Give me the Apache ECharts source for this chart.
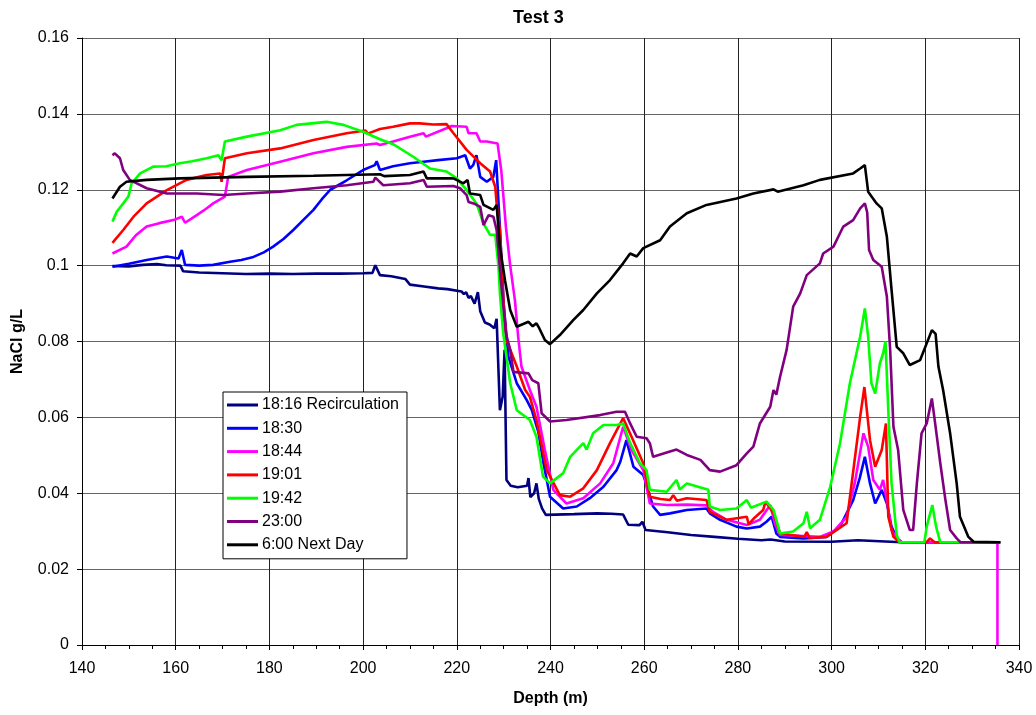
<!DOCTYPE html>
<html>
<head>
<meta charset="utf-8">
<title>Test 3</title>
<script src="https://cdn.jsdelivr.net/npm/echarts@6/dist/echarts.min.js"></script>
<style>
  html, body { margin: 0; padding: 0; background: #fff; }
  #chart { width: 1036px; height: 715px; }
</style>
</head>
<body>
<div id="chart"></div>
<script>
// Salinity profiles along the hole: [depth (m), NaCl (g/L)]
const seriesNames = ['18:16 Recirculation', '18:30', '18:44', '19:01', '19:42', '23:00', '6:00 Next Day'];
const seriesColors = ['#000080', '#0000FF', '#FF00FF', '#FF0000', '#00FF00', '#800080', '#000000'];

const xTicks = { min: 140, max: 340, step: 20 };
const yTicks = { min: 0, max: 0.16, step: 0.02 };

const recirc1816 = [
  [146.5,0.0999],[150,0.0998],[153,0.1002],[156,0.1004],[158,0.1001],[161,0.1000],[161.6,0.0985],[165,0.0982],
  [170,0.0980],[175,0.0978],[180,0.0979],[185,0.0978],[190,0.0979],[195,0.0979],[200,0.0980],[202,0.0981],
  [202.6,0.1001],[203.6,0.0975],[206,0.0972],[209,0.0965],[210,0.0950],[213,0.0945],[216,0.0940],[218,0.0938],
  [221,0.0932],[221.5,0.0925],[222,0.0930],[222.5,0.0915],[223,0.0920],[223.8,0.0900],[224.5,0.0930],[225,0.0880],
  [226,0.0850],[227,0.0845],[228,0.0835],[228.5,0.0860],[229.2,0.0619],[229.8,0.0655],[230.2,0.0778],[230.6,0.0435],
  [231.5,0.0420],[233,0.0416],[235,0.0420],[235.3,0.0440],[235.7,0.0390],[236.5,0.0400],[237,0.0426],[237.5,0.0385],
  [238.2,0.0360],[239,0.0343],[245,0.0345],[250,0.0347],[253,0.0346],[255.5,0.0344],[256.6,0.0317],[259,0.0316],
  [259.6,0.0325],[260.3,0.0303],[265,0.0297],[270,0.0290],[275,0.0285],[280,0.0280],[285,0.0276],[287,0.0278],
  [290,0.0273],[300,0.0272],[305.6,0.0276],[306,0.0272],[315,0.0271],[325,0.0271],[336,0.0271]
];

const t1830 = [
  [146.5,0.0997],[150,0.1005],[153.8,0.1015],[158.1,0.1024],[160.6,0.1019],[161.3,0.1041],[162,0.1002],[165,0.1000],
  [168,0.1002],[171.6,0.1010],[174,0.1015],[176.6,0.1023],[178.8,0.1035],[180.8,0.1050],[183,0.1070],[185.1,0.1094],
  [187.2,0.1120],[189.4,0.1147],[191.2,0.1175],[193,0.1200],[196.5,0.1225],[200,0.1252],[202.5,0.1265],[202.9,0.1275],
  [203.6,0.1252],[206.4,0.1262],[210,0.1270],[212.9,0.1274],[216,0.1278],[220,0.1283],[221.8,0.1291],[222.8,0.1256],
  [223.5,0.1265],[224.2,0.1291],[225,0.1234],[226.4,0.1221],[227.8,0.1234],[228.4,0.1278],[229.2,0.1100],[230,0.0900],
  [231,0.0760],[232.8,0.0690],[234.9,0.0646],[236,0.0620],[237.4,0.0562],[238.5,0.0480],[239.9,0.0391],[242.7,0.0360],
  [245.6,0.0365],[248.4,0.0387],[251.3,0.0417],[254.1,0.0461],[254.9,0.0483],[256.2,0.0540],[257.7,0.0470],[259.8,0.0448],
  [260.5,0.0422],[261.9,0.0365],[263.4,0.0343],[265.5,0.0347],[269.1,0.0356],[273.3,0.0360],[274,0.0347],[276.2,0.0330],
  [279.7,0.0312],[281.9,0.0307],[284.7,0.0312],[286.1,0.0325],[287.2,0.0338],[288.2,0.0294],[289,0.0285],[294,0.0281],
  [298.9,0.0285],[301.8,0.0312],[304.6,0.0382],[306,0.0440],[307.1,0.0496],[308.2,0.0426],[309.3,0.0373],[310.7,0.0409],
  [311.8,0.0373],[312.8,0.0312],[313.9,0.0281],[315,0.0271],[336,0.0271]
];

const t1844 = [
  [146.5,0.1032],[149.5,0.1050],[151.5,0.1080],[153.8,0.1103],[156.5,0.1112],[159.5,0.1120],[161.3,0.1129],[162,0.1113],
  [164.5,0.1133],[166.5,0.1150],[168,0.1164],[170.5,0.1182],[171.2,0.1234],[175.2,0.1252],[182.3,0.1274],[189.4,0.1296],
  [196.5,0.1313],[202.9,0.1322],[203.6,0.1318],[206.4,0.1327],[210,0.1340],[212.9,0.1349],[213.4,0.1340],[217.8,0.1362],
  [218.9,0.1368],[222.1,0.1366],[222.5,0.1349],[224.2,0.1349],[225,0.1327],[226.4,0.1327],[228.7,0.1322],[229.5,0.1250],
  [230.5,0.1100],[231.4,0.1000],[232.4,0.0909],[233.1,0.0813],[233.8,0.0734],[235.6,0.0672],[237,0.0628],[238.8,0.0514],
  [240.6,0.0409],[243.4,0.0373],[247,0.0387],[250.6,0.0426],[253.4,0.0479],[255.5,0.0575],[257.3,0.0514],[259.8,0.0461],
  [261.2,0.0373],[264.8,0.0369],[269.1,0.0370],[273.3,0.0368],[274.7,0.0351],[277.6,0.0330],[281.9,0.0316],[284.7,0.0330],
  [286.9,0.0369],[287.9,0.0320],[289,0.0290],[297.5,0.0285],[300.5,0.0300],[303.2,0.0338],[305,0.0430],[306.8,0.0558],
  [307.8,0.0523],[308.9,0.0435],[310.3,0.0409],[311,0.0435],[311.8,0.0380],[312.8,0.0303],[313.9,0.0281],[315,0.0271],
  [335.4,0.0271],[335.4,0]
];

const t1901 = [
  [146.5,0.1060],[148.8,0.1094],[151,0.1129],[153.8,0.1164],[158.1,0.1199],[162.3,0.1226],[166.6,0.1239],[169.5,0.1243],
  [169.8,0.1221],[170.5,0.1283],[175.2,0.1296],[182.3,0.1309],[189.4,0.1331],[196.5,0.1349],[200.5,0.1356],[201,0.1348],
  [203.6,0.1360],[206.4,0.1366],[210,0.1375],[212.1,0.1375],[215,0.1372],[217.8,0.1373],[219.3,0.1349],[222.1,0.1305],
  [225,0.1270],[227.1,0.1248],[228.2,0.1208],[228.5,0.1164],[229.2,0.1094],[230,0.0900],[230.6,0.0804],[232.8,0.0734],
  [234.6,0.0672],[235.6,0.0654],[237,0.0593],[239.2,0.0461],[242,0.0395],[244.2,0.0391],[247,0.0413],[249.9,0.0461],
  [252.7,0.0532],[255.5,0.0598],[257.3,0.0549],[259.8,0.0479],[261.2,0.0391],[263.5,0.0385],[265.5,0.0382],[266.2,0.0395],
  [267,0.0380],[269.1,0.0387],[273.3,0.0382],[274,0.0351],[277.6,0.0330],[281.9,0.0338],[282.3,0.0318],[283.5,0.0335],
  [285.4,0.0356],[285.9,0.0378],[287.6,0.0347],[289,0.0294],[294.2,0.0285],[294.7,0.0298],[295.3,0.0282],[298.9,0.0285],
  [303.2,0.0321],[306.1,0.0602],[307,0.0680],[308.2,0.0540],[309.3,0.0470],[310.7,0.0514],[311.6,0.0584],[312.1,0.0338],
  [313.2,0.0285],[314.5,0.0271],[320.3,0.0271],[321,0.0281],[322,0.0271],[336,0.0271]
];

const t1942 = [
  [146.5,0.1116],[147.4,0.1142],[148.8,0.1164],[149.9,0.1182],[150.6,0.1217],[152.4,0.1243],[155.2,0.1261],[158,0.1262],
  [160.9,0.1270],[163.5,0.1275],[166.6,0.1283],[169.1,0.1291],[169.8,0.1278],[170.5,0.1327],[175.2,0.1340],[182.3,0.1357],
  [185.8,0.1371],[189,0.1375],[192.2,0.1379],[195.8,0.1371],[200,0.1353],[203.6,0.1333],[206.4,0.1320],[210.7,0.1287],
  [214.3,0.1256],[217.8,0.1248],[220,0.1230],[222.1,0.1199],[224.2,0.1164],[225.7,0.1111],[227.1,0.1081],[228.2,0.1081],
  [228.9,0.0997],[229.2,0.0927],[229.9,0.0822],[231.4,0.0690],[232.8,0.0619],[235.6,0.0593],[237,0.0549],[238.4,0.0444],
  [239.9,0.0426],[242.7,0.0453],[244.2,0.0496],[247,0.0532],[247.7,0.0515],[249.1,0.0558],[251.3,0.0580],[254.1,0.0580],
  [255.5,0.0584],[257,0.0532],[259.1,0.0479],[260.5,0.0461],[261.2,0.0409],[264.8,0.0404],[266.9,0.0435],[267.6,0.0410],
  [269.1,0.0426],[273.7,0.0409],[274,0.0365],[276.2,0.0356],[279.7,0.0360],[281.9,0.0382],[282.8,0.0362],[286.1,0.0378],
  [287.6,0.0356],[289,0.0294],[291.8,0.0299],[294,0.0321],[294.7,0.0351],[295.4,0.0308],[297.5,0.0330],[299.7,0.0417],
  [301.8,0.0532],[303.9,0.0690],[306.1,0.0813],[307.1,0.0887],[307.8,0.0813],[308.5,0.0690],[309.3,0.0663],[310.3,0.0742],
  [311,0.0769],[311.5,0.0800],[312.1,0.0619],[312.8,0.0426],[313.9,0.0290],[314.5,0.0271],[319.8,0.0271],[320.3,0.0312],
  [321.5,0.0369],[322.3,0.0312],[323.2,0.0271],[336,0.0271]
];

const t2300 = [
  [146.5,0.1291],[147,0.1296],[148.1,0.1283],[148.8,0.1252],[150.2,0.1226],[153.8,0.1204],[158.1,0.1190],[164.5,0.1190],
  [170.2,0.1186],[175.2,0.1190],[182.3,0.1195],[189.4,0.1204],[196.5,0.1212],[202.2,0.1221],[202.6,0.1232],[204.3,0.1212],
  [210,0.1217],[212.9,0.1226],[213.6,0.1208],[219.3,0.1210],[220.7,0.1204],[222.1,0.1186],[222.5,0.1168],[223.6,0.1164],
  [225,0.1155],[225.7,0.1107],[226.8,0.1133],[227.8,0.1129],[228.5,0.1094],[229.5,0.0950],[230.5,0.0820],[231.4,0.0778],
  [232.1,0.0720],[235.3,0.0716],[236.1,0.0698],[237.4,0.0690],[238.1,0.0611],[239.9,0.0589],[243.4,0.0593],[250.6,0.0606],
  [254.1,0.0615],[255.9,0.0615],[257,0.0584],[258.4,0.0549],[260.5,0.0545],[261.2,0.0532],[261.9,0.0496],[265.5,0.0510],
  [266.9,0.0515],[269.1,0.0501],[272,0.0488],[274,0.0461],[276.2,0.0457],[279.7,0.0474],[281.9,0.0505],[283.3,0.0523],
  [284.7,0.0584],[286.9,0.0628],[287.6,0.0672],[288.2,0.0660],[289,0.0707],[290.4,0.0778],[291.8,0.0892],[293.3,0.0927],
  [294.7,0.0975],[297.5,0.1006],[298.2,0.1032],[300.4,0.1050],[302.5,0.1103],[304.6,0.1120],[306.1,0.1151],[307.1,0.1164],
  [307.6,0.1140],[308,0.1041],[308.9,0.1015],[310.7,0.0997],[311.8,0.0918],[312.5,0.0778],[313.2,0.0575],[314.2,0.0514],
  [315.3,0.0356],[316.7,0.0303],[317.4,0.0303],[318.2,0.0426],[319.2,0.0558],[320.3,0.0584],[321.4,0.0650],[322.2,0.0575],
  [323.2,0.0479],[324.3,0.0382],[325.3,0.0303],[326.7,0.0281],[327.5,0.0271],[336,0.0271]
];

const nextDay0600 = [
  [146.5,0.1177],[148.1,0.1208],[149.5,0.1221],[153.8,0.1226],[160.9,0.1230],[175.2,0.1234],[189.4,0.1237],[203.6,0.1241],
  [204.5,0.1236],[210,0.1239],[212.9,0.1248],[213.6,0.1230],[219.3,0.1230],[221.4,0.1217],[222.3,0.1226],[222.8,0.1190],
  [225,0.1186],[225.7,0.1160],[227.8,0.1147],[228.5,0.1160],[229.2,0.1050],[230.3,0.0960],[231.4,0.0883],[232.8,0.0839],
  [235.3,0.0852],[236.2,0.0840],[237,0.0848],[237.6,0.0835],[238.8,0.0804],[239.9,0.0793],[242,0.0817],[244.9,0.0857],
  [247,0.0883],[249.9,0.0927],[252.7,0.0962],[255.5,0.1006],[257,0.1032],[258.4,0.1024],[259.8,0.1046],[263.4,0.1067],
  [265.5,0.1103],[269.1,0.1138],[273.3,0.1160],[279.7,0.1177],[283.3,0.1190],[287.6,0.1201],[288.5,0.1195],[294,0.1212],
  [297.5,0.1226],[304.6,0.1243],[306.1,0.1256],[307.1,0.1265],[307.8,0.1195],[309.6,0.1164],[310.7,0.1151],[311.8,0.1076],
  [312.8,0.0936],[313.9,0.0786],[315.3,0.0769],[316.7,0.0738],[318.9,0.0751],[320.3,0.0795],[321.4,0.0830],[322.2,0.0820],
  [322.8,0.0734],[323.8,0.0672],[325.3,0.0558],[326.7,0.0426],[327.4,0.0338],[329.2,0.0285],[330.3,0.0272],[336,0.0271]
];

const seriesData = [recirc1816, t1830, t1844, t1901, t1942, t2300, nextDay0600];

const FONT = '"Liberation Sans", Arial, Helvetica, sans-serif';
const chart = echarts.init(document.getElementById('chart'), null, { renderer: 'canvas' });

chart.setOption({
  animation: false,
  backgroundColor: '#ffffff',
  textStyle: { fontFamily: FONT, color: '#000' },
  title: {
    text: 'Test 3',
    left: 508,
    top: 4,
    textStyle: { fontFamily: FONT, fontSize: 18, fontWeight: 'bold', color: '#000' }
  },
  grid: { left: 82, top: 38, right: 17, bottom: 70, outerBoundsMode: 'none' },
  legend: {
    orient: 'vertical',
    left: 223,
    top: 392,
    data: seriesNames,
    icon: 'rect',
    itemWidth: 31,
    itemHeight: 3,
    itemGap: 7.3,
    padding: [5, 8, 6, 4],
    borderColor: '#000',
    borderWidth: 1,
    backgroundColor: '#fff',
    textStyle: { fontFamily: FONT, fontSize: 16, color: '#000', padding: [0, 0, 0, -1] }
  },
  xAxis: {
    type: 'value',
    min: xTicks.min,
    max: xTicks.max,
    interval: xTicks.step,
    name: 'Depth (m)',
    nameLocation: 'middle',
    nameGap: 46,
    nameTextStyle: { fontFamily: FONT, fontSize: 16, fontWeight: 'bold', color: '#000' },
    axisLine: { show: true, onZero: false, lineStyle: { color: '#000', width: 1 } },
    axisTick: { show: true, inside: false, length: 5, lineStyle: { color: '#000' } },
    minorTick: { show: true, splitNumber: 4, length: 4, lineStyle: { color: '#000' } },
    axisLabel: { fontFamily: FONT, fontSize: 16, color: '#000', margin: 16 },
    splitLine: { show: true, lineStyle: { color: '#222', width: 1 } }
  },
  yAxis: {
    type: 'value',
    min: yTicks.min,
    max: yTicks.max,
    interval: yTicks.step,
    name: 'NaCl g/L',
    nameLocation: 'middle',
    nameGap: 56,
    nameTextStyle: { fontFamily: FONT, fontSize: 16, fontWeight: 'bold', color: '#000' },
    axisLine: { show: true, lineStyle: { color: '#000', width: 1 } },
    axisTick: { show: true, inside: false, length: 5, lineStyle: { color: '#000' } },
    axisLabel: { fontFamily: FONT, fontSize: 16, color: '#000', margin: 13 },
    splitLine: { show: true, lineStyle: { color: '#666', width: 1 } }
  },
  series: seriesNames.map((name, i) => ({
    name: name,
    type: 'line',
    data: seriesData[i],
    showSymbol: false,
    symbol: 'none',
    smooth: false,
    color: seriesColors[i],
    lineStyle: { color: seriesColors[i], width: 2.6 },
    itemStyle: { color: seriesColors[i] },
    z: 2 + i
  }))
});
</script>
</body>
</html>
